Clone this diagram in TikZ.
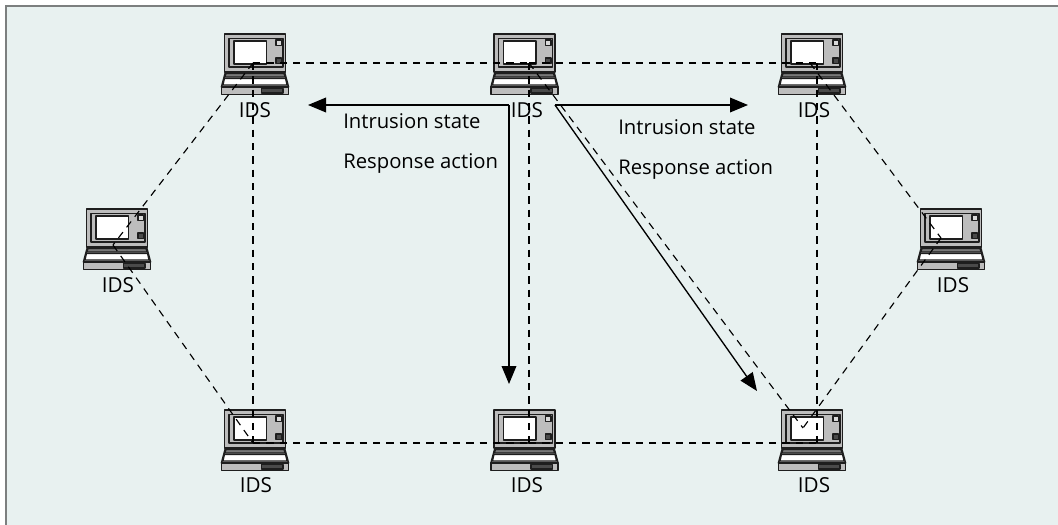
\documentclass[tikz,border=0pt]{standalone}
\usepackage{fontspec}
\setmainfont{Open Sans}
\usetikzlibrary{arrows.meta}
\definecolor{panelbg}{HTML}{E8F1F0}
\definecolor{framegray}{HTML}{7C7F7F}
\definecolor{lapgray}{HTML}{BDBDBD}
\definecolor{lapdark}{HTML}{4A4A4A}
\definecolor{lapline}{HTML}{1E1E1E}
\tikzset{
  idslabel/.style={font=\fontsize{15.5}{17}\selectfont, anchor=base, inner sep=0pt},
  msglabel/.style={font=\fontsize{15.2}{17}\selectfont, anchor=base west, inner sep=0pt},
  linkline/.style={line width=0.85pt, dash pattern=on 5.5pt off 4.5pt},
  msgarrow/.style={line width=1pt, -{Triangle[length=13.5pt,width=11pt]}},
  laptop/.pic={
    \begin{scope}[draw=lapline, line width=1.2pt, line join=round]
      % lid
      \draw[fill=lapgray] (-30.5,0) rectangle (30.5,38);
      \draw[fill=lapgray] (-26,4.5) rectangle (28,33);
      \draw[fill=white] (-21,7) rectangle (11.5,30);
      \draw[fill=white!85!black] (21,6) rectangle (26.5,11.5);
      \draw[fill=lapdark] (21,24) rectangle (26.5,29.5);
      % deck
      \draw[fill=lapgray] (-29.5,38) -- (29.5,38) -- (33.5,53) -- (-33.5,53) -- cycle;
      \draw[fill=lapdark!60!lapgray, line width=0.9pt] (-29,39.5) -- (29,39.5) -- (30,43) -- (-30,43) -- cycle;
      \draw[fill=white, line width=0.9pt] (-30.5,44.5) -- (30.5,44.5) -- (32,51) -- (-32,51) -- cycle;
      % front edge
      \draw[fill=lapgray] (-33.5,53) rectangle (33.5,60.5);
      \draw[fill=lapdark, line width=0.9pt] (6.5,54.5) rectangle (28,59);
    \end{scope}
  }
}
\begin{document}
\begin{tikzpicture}[x=0.75pt, y=-0.75pt]
  \useasboundingbox (0,0) rectangle (1058,525);
  \fill[panelbg] (6,6) rectangle (1058,525);
  \fill[framegray] (5,5) rectangle (1058,7);
  \fill[framegray] (5,5) rectangle (7,525);

  % laptops
  \pic at (255,34) {laptop};
  \pic at (524.5,34) {laptop};
  \pic at (812,34) {laptop};
  \pic at (117,209) {laptop};
  \pic at (951,209) {laptop};
  \pic at (255,410) {laptop};
  \pic at (524.5,410) {laptop};
  \pic at (812,410) {laptop};

  % IDS labels
  \node[idslabel] (idsTL) at (255,117) {IDS};
  \node[idslabel] (idsTM) at (527,117) {IDS};
  \node[idslabel] (idsTR) at (814,117) {IDS};
  \node[idslabel] (idsL) at (118,292) {IDS};
  \node[idslabel] (idsR) at (953,292) {IDS};
  \node[idslabel] (idsBL) at (256,492) {IDS};
  \node[idslabel] (idsBM) at (527,492) {IDS};
  \node[idslabel] (idsBR) at (814,492) {IDS};

  % link ends on the laptops
  \coordinate (hubTL) at (253,63);
  \coordinate (hubTM) at (529,63);
  \coordinate (hubTR) at (817,63);
  \coordinate (hubTRd) at (810,63);
  \coordinate (hubL) at (113,245);
  \coordinate (hubR) at (941,238);
  \coordinate (hubBL) at (253,443);
  \coordinate (hubBM) at (529,443);
  \coordinate (hubBR) at (817,443);
  \coordinate (hubBRd) at (803,428);

  % dashed links
  \draw[linkline] (hubTL) -- (hubTM);
  \draw[linkline] (hubTM) -- (hubTR);
  \draw[linkline] (hubBL) -- (hubBM);
  \draw[linkline] (hubBM) -- (hubBR);
  \draw[linkline] (hubTL) -- (hubBL);
  \draw[linkline] (hubTM) -- (hubBM);
  \draw[linkline] (hubTR) -- (hubBR);
  \draw[linkline] (hubTL) -- (hubL);
  \draw[linkline] (hubL) -- (hubBL);
  \draw[linkline] (hubTRd) -- (hubR);
  \draw[linkline] (hubR) -- (hubBRd);
  \draw[linkline] (hubTM) -- (hubBRd);

  % state messages
  \coordinate (msgW) at (509,105);
  \coordinate (msgE) at (555,105);
  \draw[msgarrow] (msgW) -- (308,105);
  \draw[msgarrow] (msgW) -- (509,384);
  \draw[msgarrow] (msgE) -- (748,105);
  \draw[msgarrow] (msgE) -- (757,391);

  \node[msglabel] (stateL) at (343,128) {Intrusion state};
  \node[msglabel] (respL) at (343,168) {Response action};
  \node[msglabel] (stateR) at (618,134) {Intrusion state};
  \node[msglabel] (respR) at (618,174) {Response action};
\end{tikzpicture}
\end{document}
